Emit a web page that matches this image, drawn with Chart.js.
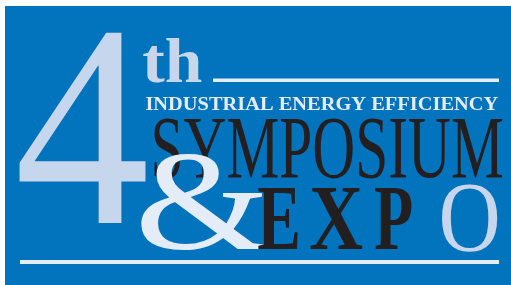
<!DOCTYPE html>
<html>
<head>
<meta charset="utf-8">
<script src="https://cdn.jsdelivr.net/npm/chart.js@4.4.1/dist/chart.umd.min.js"></script>
<style>
  html, body { margin: 0; padding: 0; background: #ffffff; }
  #logo { display: block; }
</style>
</head>
<body>
<canvas id="logo" width="511" height="285" aria-label="4th Industrial Energy Efficiency Symposium & Expo"></canvas>
<script>
// words of the logo
const ordinal = ['4', 'th'];
const tagline = ['INDUSTRIAL ENERGY EFFICIENCY'];
const titleWords = ['SYMPOSIUM', '&'];
const expoLetters = ['E', 'X', 'P', 'O'];

const serif = "'Liberation Serif', 'Times New Roman', serif";
const blue = '#0274bd';
const paleBlue = '#c6d6ed';
const paleWhite = '#e4ecf7';
const ink = '#231f20';

// draws a text so its ink fills the given box
const fitText = (ctx, text, weight, color, box) => {
    ctx.save();
    ctx.font = weight + ' 100px ' + serif;
    const m = ctx.measureText(text);
    const w = m.actualBoundingBoxLeft + m.actualBoundingBoxRight;
    const h = m.actualBoundingBoxAscent + m.actualBoundingBoxDescent;
    ctx.translate(box[0], box[1]);
    ctx.scale((box[2] - box[0]) / w, (box[3] - box[1]) / h);
    ctx.fillStyle = color;
    ctx.textBaseline = 'alphabetic';
    ctx.fillText(text, m.actualBoundingBoxLeft, m.actualBoundingBoxAscent);
    ctx.restore();
}

const logoPlugin = {
    id: 'logo',
    beforeDraw(chart) {
        const ctx = chart.ctx;
        ctx.save();
        ctx.fillStyle = '#ffffff';
        ctx.fillRect(0, 0, chart.width, chart.height);
        ctx.fillStyle = blue;
        ctx.fillRect(5, 6, chart.width - 5, chart.height - 6);

        fitText(ctx, ordinal[0], 'normal', paleBlue, [17, 35, 147, 226]);
        fitText(ctx, ordinal[1], 'bold', paleBlue, [143, 38, 202, 83]);

        ctx.fillStyle = paleWhite;
        ctx.fillRect(213, 78.5, 286, 3.5);

        fitText(ctx, tagline[0], 'bold', paleWhite, [146, 96.5, 498, 110]);
        fitText(ctx, titleWords[0], 'normal', ink, [154, 118, 502, 179]);
        fitText(ctx, titleWords[1], 'normal', paleWhite, [140, 155, 267, 252]);

        // EXP in bold black, the O in pale blue
        fitText(ctx, expoLetters[0], 'bold', ink, [258, 189, 298, 250]);
        fitText(ctx, expoLetters[1], 'bold', ink, [310, 189, 363, 250]);
        fitText(ctx, expoLetters[2], 'bold', ink, [375, 189, 412, 250]);
        fitText(ctx, expoLetters[3], 'normal', paleBlue, [442, 185, 498, 252]);

        ctx.fillStyle = paleWhite;
        ctx.fillRect(20, 260, 479, 4);
        ctx.restore();
    }
};

new Chart(document.getElementById('logo'), {
    type: 'scatter',
    data: { datasets: [] },
    options: {
        responsive: false,
        animation: false,
        events: [],
        layout: { padding: 0 },
        scales: { x: { display: false }, y: { display: false } },
        plugins: { legend: { display: false }, tooltip: { enabled: false } }
    },
    plugins: [logoPlugin]
});
</script>
</body>
</html>
